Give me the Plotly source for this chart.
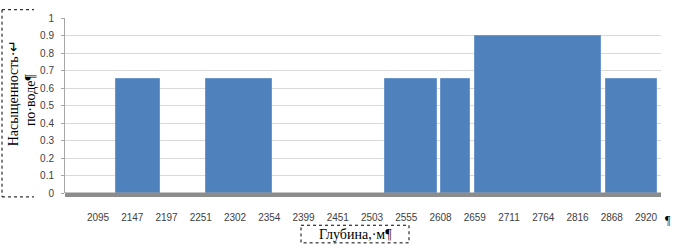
import numpy as np
import plotly.graph_objects as go

# ---- data ----
tick_depths = [2095, 2147, 2197, 2251, 2302, 2354, 2399, 2451, 2503,
               2555, 2608, 2659, 2711, 2764, 2816, 2868, 2920]
interval_top = [2122, 2259, 2523, 2609, 2659, 2859]      # depth where a layer starts, m
interval_bottom = [2188, 2358, 2603, 2652, 2852, 2937]   # depth where a layer ends, m
saturation = [0.65, 0.65, 0.65, 0.65, 0.90, 0.65]

y_title_lines = ["Насыщенность·↵", "по·воде¶"]
x_title = "Глубина,·м¶"

# ---- category-like axis: ticks evenly spaced, depth mapped piecewise ----
idx = np.arange(len(tick_depths), dtype=float)
td = np.array(tick_depths, dtype=float)


def depth_to_pos(d):
    d = np.asarray(d, dtype=float)
    pos = np.interp(d, td, idx)
    hi = d > td[-1]
    pos[hi] = idx[-1] + (d[hi] - td[-1]) / (td[-1] - td[-2])
    lo = d < td[0]
    pos[lo] = (d[lo] - td[0]) / (td[1] - td[0])
    return pos


p0 = depth_to_pos(interval_top)
p1 = depth_to_pos(interval_bottom)
centers = (p0 + p1) / 2
widths = p1 - p0

W, H = 673, 246
ML, MR, MT, MB = 65, 12, 14, 53
PW, PH = W - ML - MR, H - MT - MB


def px(x):
    return (x - ML) / PW


def py(y):
    return (H - MB - y) / PH


fig = go.Figure()
fig.add_trace(go.Bar(
    x=centers, y=saturation, width=widths,
    marker=dict(color="#4f81bd", line=dict(color="#6b96cb", width=1)),
    showlegend=False, hoverinfo="y",
))

shapes = []
# grey floor under the plot
shapes.append(dict(type="rect", xref="paper", yref="paper",
                   x0=px(65), x1=px(661), y0=py(192.5), y1=py(197),
                   fillcolor="#8c8c8c", line=dict(width=0), layer="above"))
# dotted box around the y title (left, top, bottom edges)
dot = dict(color="#000000", width=1, dash="dot")
shapes.append(dict(type="line", xref="paper", yref="paper",
                   x0=px(2), x1=px(2), y0=py(5.5), y1=py(197), line=dot))
shapes.append(dict(type="line", xref="paper", yref="paper",
                   x0=px(2), x1=px(34), y0=py(5.5), y1=py(5.5), line=dot))
shapes.append(dict(type="line", xref="paper", yref="paper",
                   x0=px(2), x1=px(34), y0=py(197), y1=py(197), line=dot))
# dotted box around the x title
shapes.append(dict(type="rect", xref="paper", yref="paper",
                   x0=px(301), x1=px(409), y0=py(226), y1=py(244), line=dot))

serif = "Liberation Serif, Times New Roman, serif"
common = dict(xref="paper", yref="paper", showarrow=False,
              xanchor="center", yanchor="middle")
annotations = [
    dict(text=y_title_lines[0], x=px(13), y=py(91), textangle=-90,
         font=dict(family=serif, size=14, color="#000"), **common),
    dict(text=y_title_lines[1], x=px(30), y=py(98), textangle=-90,
         font=dict(family=serif, size=14, color="#000"), **common),
    dict(text=x_title, x=px(355), y=py(235),
         font=dict(family=serif, size=14, color="#000"), **common),
    dict(text="¶", x=px(668), y=py(221),
         font=dict(family=serif, size=12, color="#000"), **common),
]

fig.update_layout(
    width=W, height=H,
    margin=dict(l=ML, r=MR, t=MT, b=MB, pad=0),
    paper_bgcolor="white", plot_bgcolor="white",
    bargap=0,
    shapes=shapes, annotations=annotations,
    xaxis=dict(range=[(65 - 98) / 34.25, (661 - 98) / 34.25],
               tickmode="array", tickvals=list(idx),
               ticktext=[str(t) for t in tick_depths],
               showgrid=False, zeroline=False, showline=False,
               ticks="outside", ticklen=15, tickcolor="rgba(0,0,0,0)",
               tickfont=dict(family="Liberation Sans, Arial, sans-serif", size=10, color="#404040")),
    yaxis=dict(range=[0, 1], dtick=0.1, tick0=0,
               showgrid=True, gridcolor="#d9d9d9", gridwidth=1,
               zeroline=False, showline=True, linecolor="#a6a6a6", linewidth=1,
               ticks="outside", ticklen=3, tickcolor="#a6a6a6",
               ticklabelstandoff=5,
               tickfont=dict(family="Liberation Sans, Arial, sans-serif", size=10, color="#404040")),
)

fig.write_html("out.html")
